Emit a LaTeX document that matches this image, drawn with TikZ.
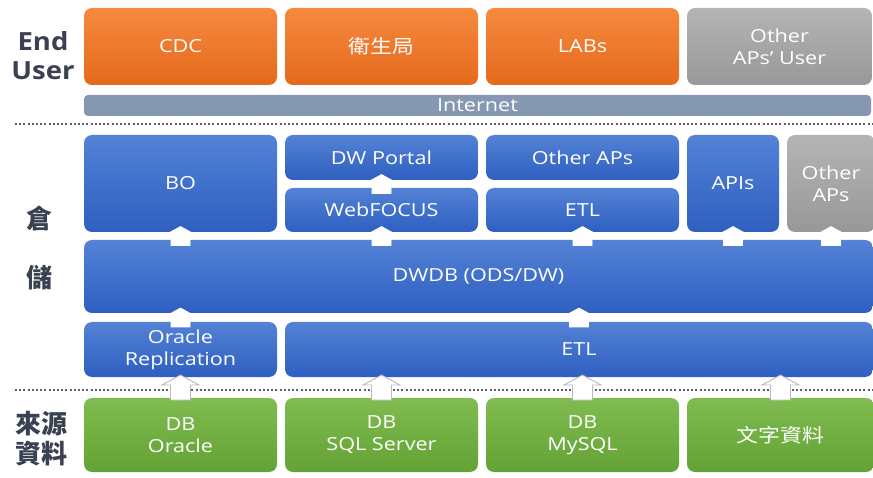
\documentclass[tikz,border=0pt]{standalone}
\usepackage{fontspec}
\setmainfont{Open Sans}[FakeStretch=1.2]
\newfontfamily\sidefont{Open Sans}[FakeStretch=1.1]
\newfontfamily\cjk{Noto Sans CJK TC}
\newfontfamily\cjkwide{Noto Sans CJK TC}[FakeStretch=1.15]
\usetikzlibrary{positioning, calc}

\definecolor{orgtop}{HTML}{F58A3E}
\definecolor{orgbot}{HTML}{E5691D}
\definecolor{blutop}{HTML}{5382D6}
\definecolor{blubot}{HTML}{2F5FC0}
\definecolor{grntop}{HTML}{80BC50}
\definecolor{grnbot}{HTML}{64A236}
\definecolor{grytop}{HTML}{B4B4B4}
\definecolor{grybot}{HTML}{989898}
\definecolor{netbar}{HTML}{8597B1}
\definecolor{sidetxt}{HTML}{3A4251}

\tikzset{
  pics/blockup/.style={code={
    \draw[pic actions] (-9.5,9.5) -- (-9.5,-0.5) -- (-16.5,-0.5) -- (0,-9.5)
      -- (16.5,-0.5) -- (9.5,-0.5) -- (9.5,9.5) -- cycle;}},
  pics/srcup/.style={code={
    \draw[pic actions] (-10,12.5) -- (-10,-2.5) -- (-18.5,-2.5) -- (0,-12.5)
      -- (18.5,-2.5) -- (10,-2.5) -- (10,12.5) -- cycle;}}
}

\begin{document}
\begin{tikzpicture}[
  x=1pt, y=-1pt,
  font=\fontsize{18}{22}\selectfont,
  blk/.style={rounded corners=8pt, inner sep=0pt, outer sep=0pt, align=center, text=white},
  orgbox/.style={blk, top color=orgtop, bottom color=orgbot},
  blubox/.style={blk, top color=blutop, bottom color=blubot},
  grnbox/.style={blk, top color=grntop, bottom color=grnbot},
  grybox/.style={blk, top color=grytop, bottom color=grybot},
  wd/.style={minimum width=#1},
  ht/.style={minimum height=#1},
  side/.style={font=\sidefont\fontsize{25}{29}\selectfont\bfseries, text=sidetxt, align=center},
  cjkside/.style={side, font=\cjk\fontsize{26}{30}\selectfont\bfseries},
  uparrow/.style={fill=white, draw=white, line width=0.6pt, line join=miter},
  srcarrow/.style={fill=white, draw=gray!55, line width=0.9pt, line join=miter},
  sep/.style={draw=sidetxt!85, line width=2pt, dash pattern=on 2pt off 2.2pt}
]
\useasboundingbox[fill=white] (0,0) rectangle (873,478);

% end users
\node[orgbox, wd=193pt, ht=77pt, anchor=north west] (cdc) at (84,8) {CDC};
\node[orgbox, wd=193pt, ht=77pt, right=8pt of cdc, font=\cjkwide\fontsize{19}{22}\selectfont] (health) {衛生局};
\node[orgbox, wd=193pt, ht=77pt, right=8pt of health] (labs) {LABs};
\node[grybox, wd=185pt, ht=77pt, right=8pt of labs] (apuser) {Other\\APs’ User};
\node[blk, fill=netbar, rounded corners=4pt, wd=787pt, ht=21pt, below right=10pt and 0pt of cdc.south west] (net) {Internet};

% warehouse
\node[blubox, wd=193pt, ht=97pt, anchor=north west] (bo) at (84,135) {BO};
\node[blubox, wd=193pt, ht=45pt, below right=0pt and 8pt of bo.north east] (portal) {DW Portal};
\node[blubox, wd=193pt, ht=44pt, below=8pt of portal] (webfocus) {WebFOCUS};
\node[blubox, wd=193pt, ht=45pt, right=8pt of portal] (otheraps) {Other APs};
\node[blubox, wd=193pt, ht=44pt, right=8pt of webfocus] (etlup) {ETL};
\node[blubox, wd=92pt, ht=97pt, below right=0pt and 8pt of otheraps.north east] (apis) {APIs};
\node[grybox, wd=88pt, ht=97pt, below right=0pt and 8pt of apis.north east] (othergry) {Other\\APs};
\node[blubox, wd=789pt, ht=73pt, below right=8pt and 0pt of bo.south west] (dwdb) {DWDB (ODS/DW)};
\node[blubox, wd=193pt, ht=55pt, below right=9pt and 0pt of dwdb.south west] (orarep) {Oracle\\Replication};
\node[blubox, wd=588pt, ht=55pt, right=8pt of orarep] (etllow) {ETL};

% sources
\node[grnbox, wd=193pt, ht=74pt, below right=21pt and 0pt of orarep.south west] (dbora) {DB\\Oracle};
\node[grnbox, wd=193pt, ht=74pt, right=8pt of dbora] (dbsql) {DB\\SQL Server};
\node[grnbox, wd=193pt, ht=74pt, right=8pt of dbsql] (dbmy) {DB\\MySQL};
\node[grnbox, wd=187pt, ht=74pt, right=8pt of dbmy, font=\cjkwide\fontsize{19}{22}\selectfont] (docs) {文字資料};

% side labels
\node[side] (lblend) at (43,56) {End\\User};
\node[cjkside] (lblcang) at (40,218) {倉};
\node[cjkside] (lblchu) at (40,278) {儲};
\node[cjkside] (lblsrc) at (41,439) {來源\\資料};

% separators
\draw[sep] (15,124) -- (873,124);
\draw[sep] (15,390) -- (873,390);

% block arrows
\pic[uparrow] (a1) at ($(bo.south)!.5!(bo.south |- dwdb.north)$) {blockup};
\pic[uparrow] (a2) at ($(webfocus.south)!.5!(webfocus.south |- dwdb.north)$) {blockup};
\pic[uparrow] (a3) at ($(etlup.south)!.5!(etlup.south |- dwdb.north)$) {blockup};
\pic[uparrow] (a4) at ($(apis.south)!.5!(apis.south |- dwdb.north)$) {blockup};
\pic[uparrow] (a5) at ($(othergry.south)!.5!(othergry.south |- dwdb.north)$) {blockup};
\pic[uparrow] (a6) at ($(webfocus.north)!.5!(portal.south)$) {blockup};
\pic[uparrow] (a7) at ($(orarep.north)!.5!(orarep.north |- dwdb.south)$) {blockup};
\pic[uparrow] (a8) at ($(etllow.north)!.5!(etllow.north |- dwdb.south)$) {blockup};
\pic[srcarrow] (s1) at ($(dbora.north)!.5!(orarep.south)$) {srcup};
\pic[srcarrow] (s2) at ($(dbsql.north)!.5!(dbsql.north |- etllow.south)$) {srcup};
\pic[srcarrow] (s3) at ($(dbmy.north)!.5!(dbmy.north |- etllow.south)$) {srcup};
\pic[srcarrow] (s4) at ($(docs.north)!.5!(docs.north |- etllow.south)$) {srcup};
\end{tikzpicture}
\end{document}
